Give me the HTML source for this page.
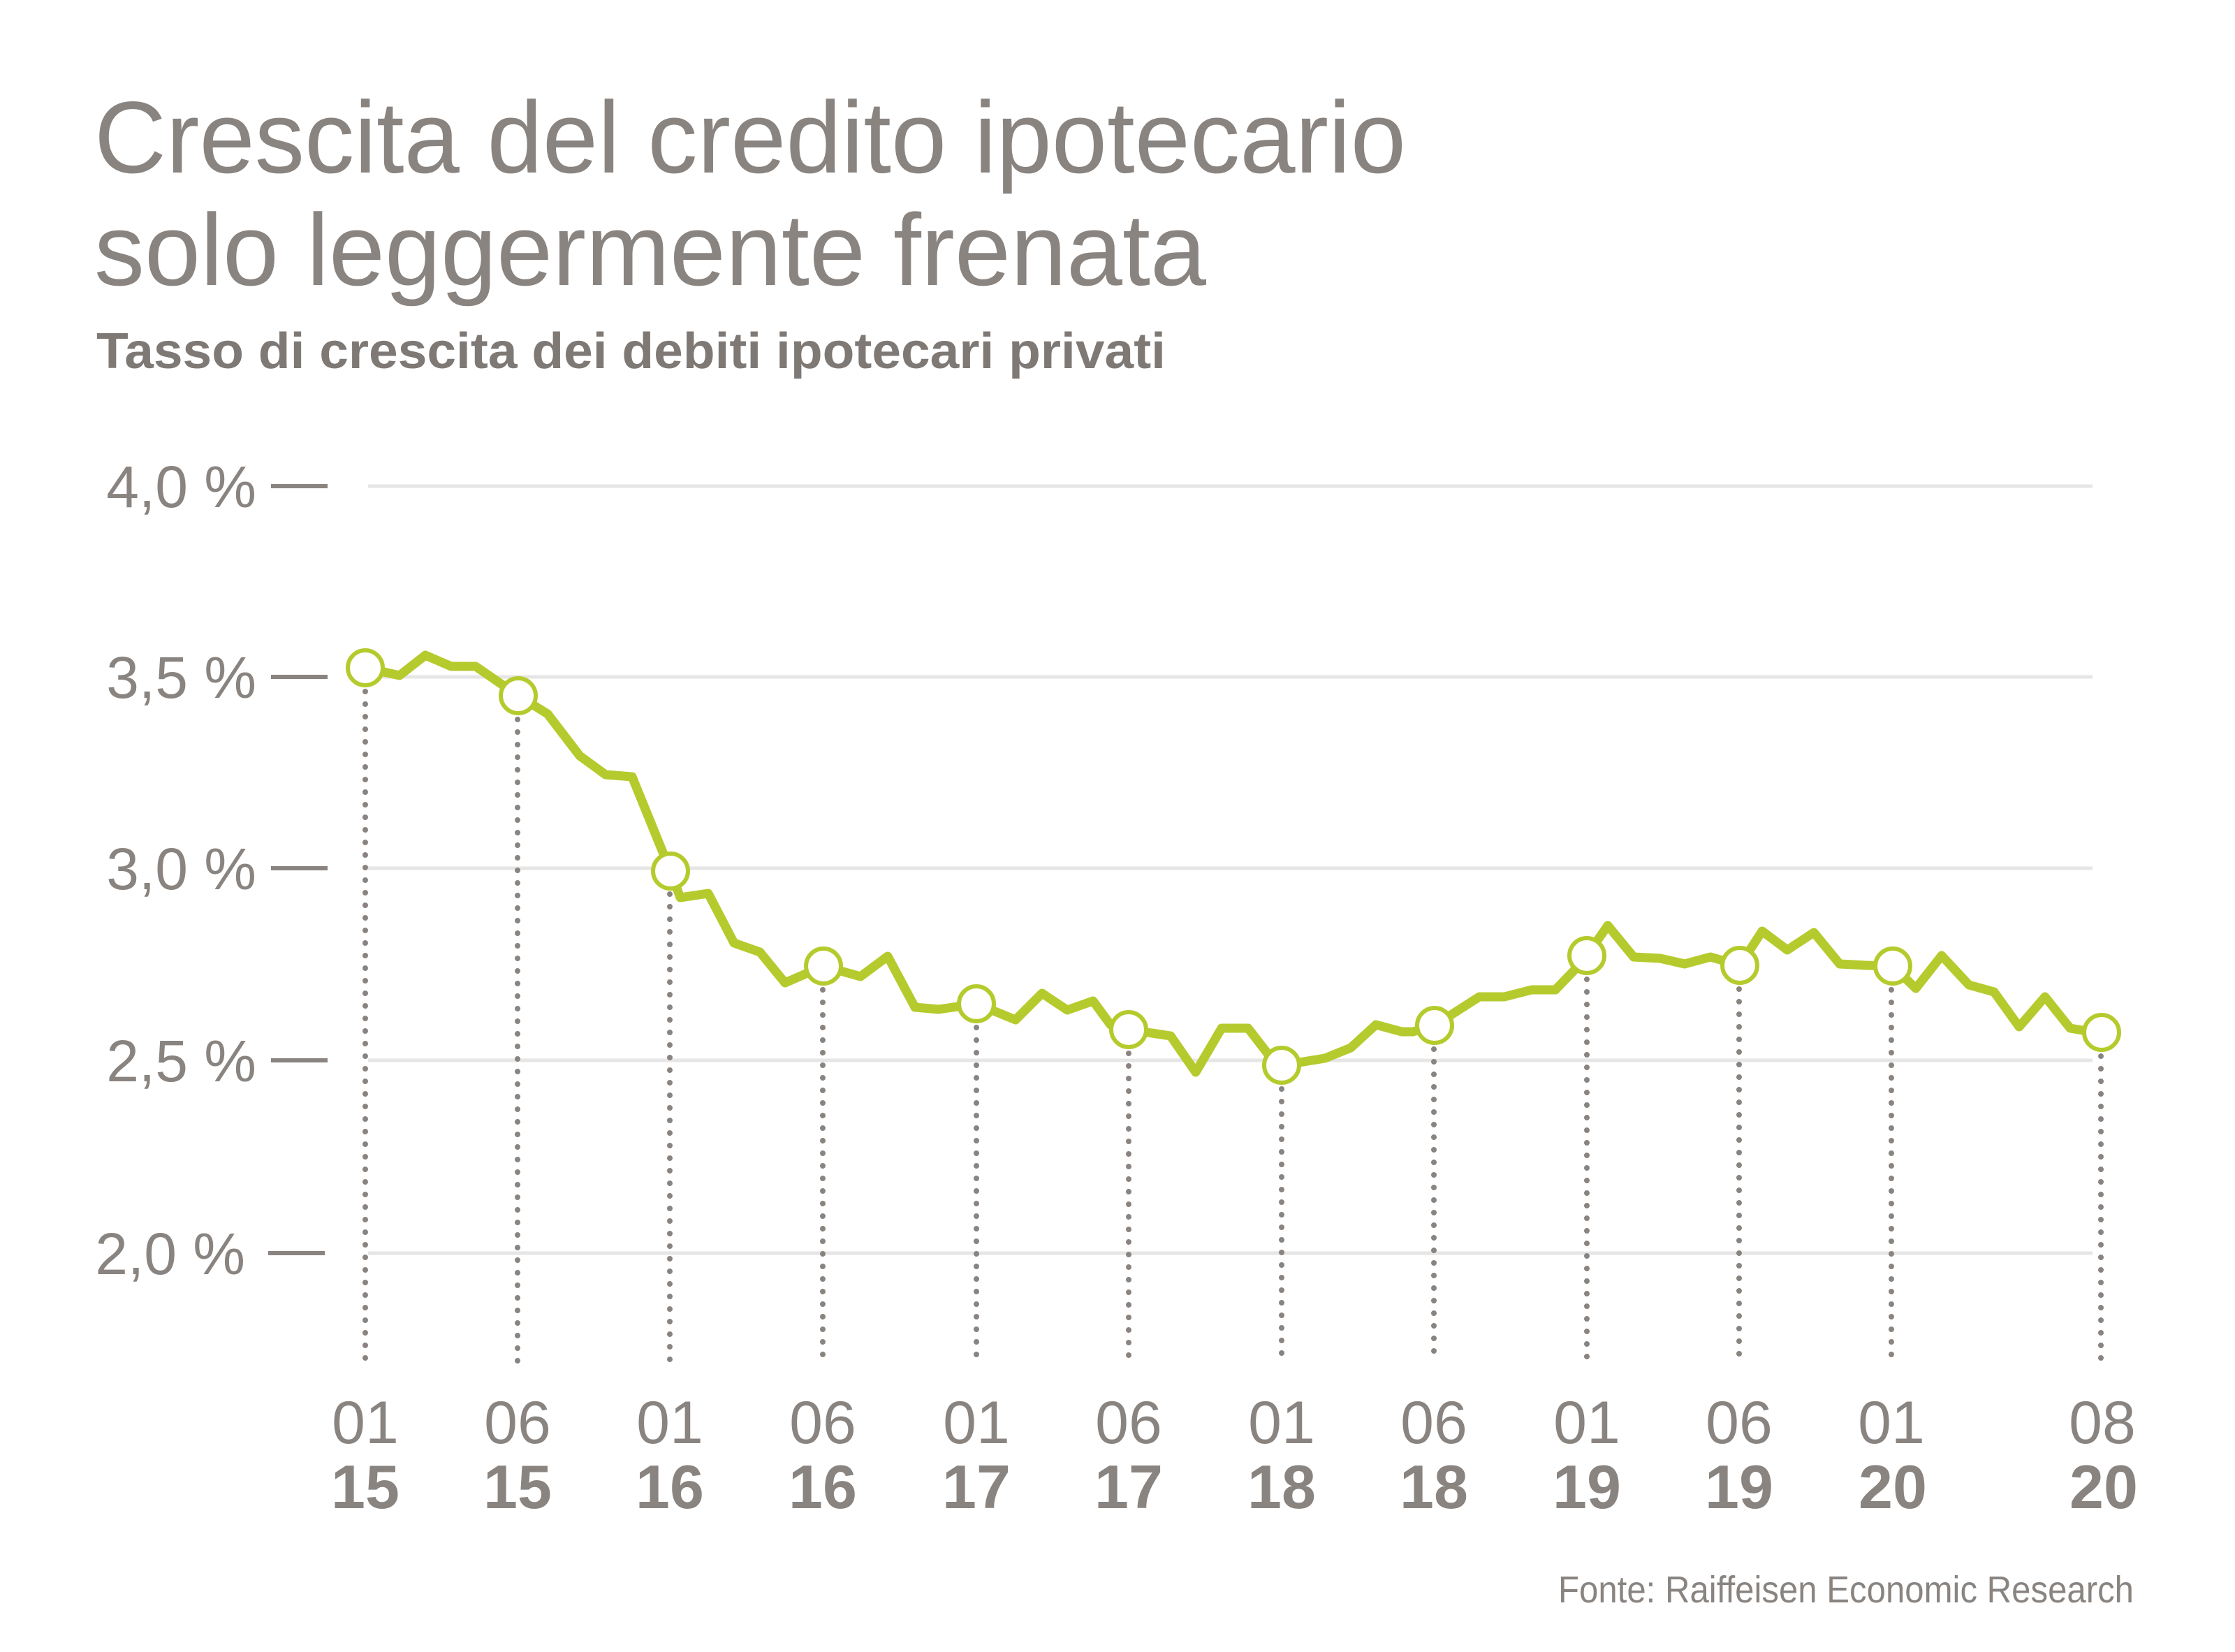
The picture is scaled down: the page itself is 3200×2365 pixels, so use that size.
<!DOCTYPE html>
<html><head><meta charset="utf-8"><style>
html,body{margin:0;padding:0;background:#fff;}
svg{display:block;}
text{font-family:"Liberation Sans",sans-serif;fill:#8a8480;}
</style></head><body>
<svg width="3200" height="2365" viewBox="0 0 3200 2365" xmlns="http://www.w3.org/2000/svg">
<text x="135" y="247" font-size="146" textLength="1878" lengthAdjust="spacingAndGlyphs">Crescita del credito ipotecario</text>
<text x="135" y="408" font-size="146" textLength="1592" lengthAdjust="spacingAndGlyphs">solo leggermente frenata</text>
<text x="138" y="527" font-size="72" font-weight="bold" style="fill:#7f7975" textLength="1531" lengthAdjust="spacingAndGlyphs">Tasso di crescita dei debiti ipotecari privati</text>

<g stroke="#e6e6e6" stroke-width="5">
<line x1="527" y1="696" x2="2996" y2="696"/>
<line x1="527" y1="969" x2="2996" y2="969"/>
<line x1="527" y1="1243" x2="2996" y2="1243"/>
<line x1="527" y1="1518" x2="2996" y2="1518"/>
<line x1="527" y1="1794" x2="2996" y2="1794"/>
</g>
<g stroke="#8a8480" stroke-width="6">
<line x1="388" y1="696" x2="469" y2="696"/>
<line x1="388" y1="969" x2="469" y2="969"/>
<line x1="388" y1="1243" x2="469" y2="1243"/>
<line x1="388" y1="1518" x2="469" y2="1518"/>
<line x1="384" y1="1794" x2="465" y2="1794"/>
</g>
<g font-size="84" text-anchor="end">
<text x="367" y="726">4,0 %</text>
<text x="367" y="999">3,5 %</text>
<text x="367" y="1273">3,0 %</text>
<text x="367" y="1548">2,5 %</text>
<text x="351" y="1824">2,0 %</text>
</g>

<g stroke="#8a8480" stroke-width="8" stroke-linecap="round" stroke-dasharray="0 18">
<line x1="523" y1="990" x2="523" y2="1950"/>
<line x1="741" y1="1030" x2="741" y2="1950"/>
<line x1="959" y1="1280" x2="959" y2="1950"/>
<line x1="1178" y1="1417" x2="1178" y2="1950"/>
<line x1="1398" y1="1471" x2="1398" y2="1950"/>
<line x1="1616" y1="1508" x2="1616" y2="1950"/>
<line x1="1835" y1="1559" x2="1835" y2="1950"/>
<line x1="2053" y1="1502" x2="2053" y2="1950"/>
<line x1="2272" y1="1402" x2="2272" y2="1950"/>
<line x1="2490" y1="1416" x2="2490" y2="1950"/>
<line x1="2708" y1="1417" x2="2708" y2="1950"/>
<line x1="3008" y1="1512" x2="3008" y2="1950"/>
</g>

<polyline fill="none" stroke="#b5cb2d" stroke-width="13" stroke-linejoin="round" stroke-linecap="round" points="
523,956 572,967 609,938 646,954 681,954 742,996 784,1022 830,1082 867,1109 905,1112 960,1247 974,1285 1014,1279 1051,1350 1088,1363 1124,1407 1179,1383 1232,1398 1271,1369 1310,1442 1344,1445 1398,1437 1454,1460 1492,1422 1528,1446 1565,1433 1590,1467 1616,1474 1676,1483 1712,1535 1749,1472 1787,1472 1814,1507 1835,1525 1897,1515 1934,1500 1970,1467 2007,1477 2023,1477 2054,1468 2118,1427 2154,1427 2193,1417 2227,1417 2253,1390 2272,1368 2302,1325 2339,1370 2377,1372 2412,1380 2449,1370 2491,1382 2523,1333 2559,1360 2597,1335 2634,1380 2672,1382 2710,1383 2743,1415 2780,1368 2819,1410 2855,1420 2891,1470 2928,1427 2964,1472 2982,1475 3009,1478"/>

<g fill="#fff" stroke="#b5cb2d" stroke-width="6">
<circle cx="523" cy="956" r="25"/>
<circle cx="742" cy="996" r="25"/>
<circle cx="960" cy="1247" r="25"/>
<circle cx="1179" cy="1383" r="25"/>
<circle cx="1398" cy="1437" r="25"/>
<circle cx="1616" cy="1474" r="25"/>
<circle cx="1835" cy="1525" r="25"/>
<circle cx="2054" cy="1468" r="25"/>
<circle cx="2272" cy="1368" r="25"/>
<circle cx="2491" cy="1382" r="25"/>
<circle cx="2710" cy="1383" r="25"/>
<circle cx="3009" cy="1478" r="25"/>
</g>

<g font-size="86" text-anchor="middle">
<text x="523" y="2066">01</text><text x="741" y="2066">06</text>
<text x="959" y="2066">01</text><text x="1178" y="2066">06</text>
<text x="1398" y="2066">01</text><text x="1616" y="2066">06</text>
<text x="1835" y="2066">01</text><text x="2053" y="2066">06</text>
<text x="2272" y="2066">01</text><text x="2490" y="2066">06</text>
<text x="2708" y="2066">01</text><text x="3010" y="2066">08</text>
</g>
<g font-size="88" font-weight="bold" text-anchor="middle">
<text x="523" y="2159">15</text><text x="741" y="2159">15</text>
<text x="959" y="2159">16</text><text x="1178" y="2159">16</text>
<text x="1398" y="2159">17</text><text x="1616" y="2159">17</text>
<text x="1835" y="2159">18</text><text x="2053" y="2159">18</text>
<text x="2272" y="2159">19</text><text x="2490" y="2159">19</text>
<text x="2710" y="2159">20</text><text x="3012" y="2159">20</text>
</g>

<text x="2231" y="2294" font-size="54" textLength="824" lengthAdjust="spacingAndGlyphs">Fonte: Raiffeisen Economic Research</text>
</svg>
</body></html>
